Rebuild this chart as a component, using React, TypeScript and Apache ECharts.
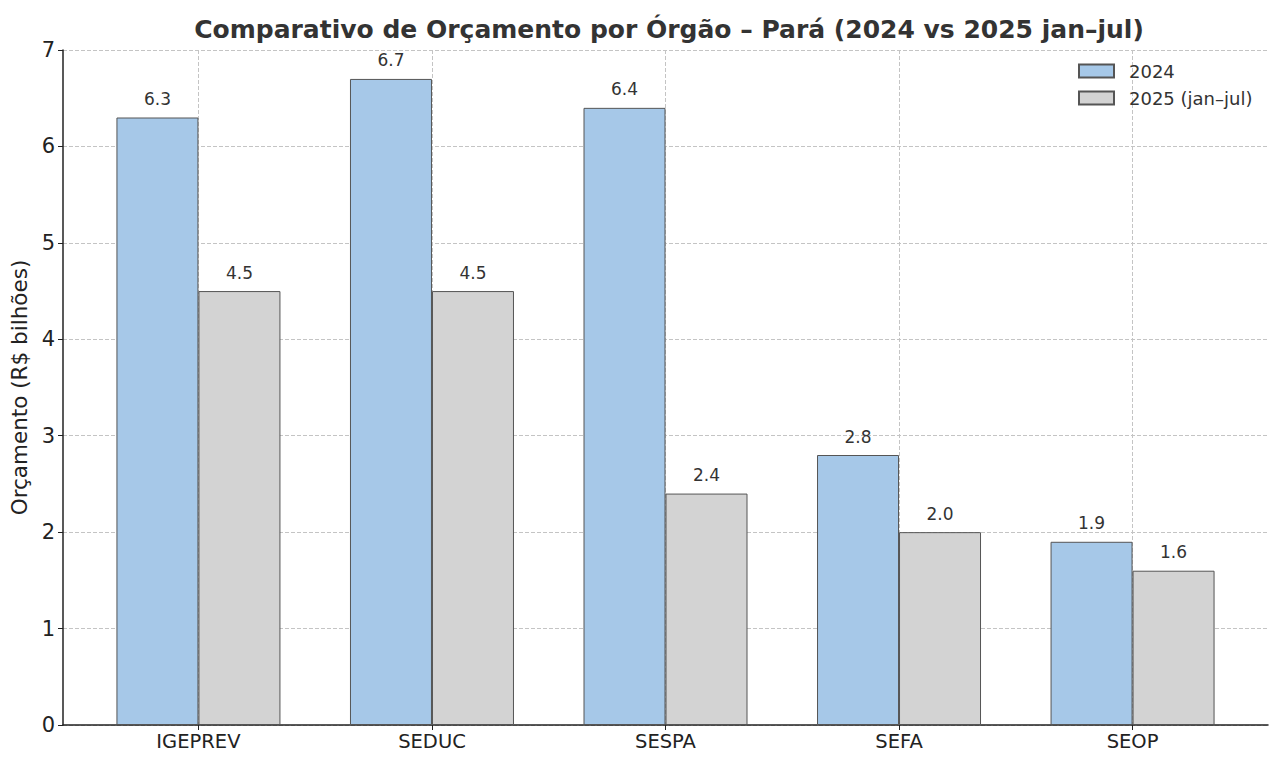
import { useEffect, useRef } from "react";
import * as echarts from "echarts";

const categories = ["IGEPREV", "SEDUC", "SESPA", "SEFA", "SEOP"];
const values2024 = [6.3, 6.7, 6.4, 2.8, 1.9];
const values2025 = [4.5, 4.5, 2.4, 2.0, 1.6];
const seriesNames = ["2024", "2025 (jan–jul)"];
const yTicks = [0, 1, 2, 3, 4, 5, 6, 7];

const FONT = "DejaVu Sans";
const BLUE = "#a6c8e8";
const GREY = "#d3d3d3";
const EDGE = "#555555";
const GRID_LINE = "#c4c4c4";

function buildOption() {
  const positions = categories.map((_, i) => i);
  const barSeries = (name: string, values: number[], color: string) => ({
    name,
    type: "bar",
    barWidth: 82,
    barGap: "0%",
    data: values.map((v, i) => [positions[i], v]),
    itemStyle: { color, borderColor: EDGE, borderWidth: 1 },
    label: {
      show: true,
      position: "top",
      distance: 10,
      fontFamily: FONT,
      fontSize: 17,
      color: "#333",
      formatter: (p: any) => Number(p.value[1]).toFixed(1),
    },
  });

  return {
    animation: false,
    textStyle: { fontFamily: FONT },
    title: {
      text: "Comparativo de Orçamento por Órgão – Pará (2024 vs 2025 jan–jul)",
      left: 664,
      textAlign: "center",
      top: 12,
      textStyle: { fontFamily: FONT, fontSize: 25, fontWeight: "bold", color: "#333" },
    },
    legend: {
      orient: "vertical",
      left: 1073,
      top: 57,
      itemWidth: 35,
      itemHeight: 13,
      itemGap: 9,
      icon: "rect",
      textStyle: { fontFamily: FONT, fontSize: 18, color: "#333", padding: [0, 0, 0, 10] },
      data: seriesNames,
    },
    grid: { left: 63, right: 12, top: 50, bottom: 38, outerBoundsMode: "none", containLabel: false },
    xAxis: {
      type: "value",
      min: -0.58,
      max: 4.58,
      axisLine: { show: true, onZero: false, lineStyle: { color: "#222", width: 1.5 } },
      axisTick: { show: true, customValues: positions, length: 5, lineStyle: { color: "#222" } },
      axisLabel: {
        customValues: positions,
        formatter: (v: number) => categories[Math.round(v)] ?? "",
        fontFamily: FONT,
        fontSize: 19.5,
        color: "#222",
        margin: 6,
      },
      splitLine: { show: true, lineStyle: { color: GRID_LINE, type: "dashed", width: 1 } },
    },
    yAxis: {
      type: "value",
      min: yTicks[0],
      max: yTicks[yTicks.length - 1],
      interval: 1,
      name: "Orçamento (R$ bilhões)",
      nameLocation: "middle",
      nameGap: 32,
      nameTextStyle: { fontFamily: FONT, fontSize: 21.5, color: "#222" },
      axisLine: { show: true, onZero: false, lineStyle: { color: "#222", width: 1.5 } },
      axisTick: { show: true, length: 5, lineStyle: { color: "#222" } },
      axisLabel: { fontFamily: FONT, fontSize: 21, color: "#222", margin: 8 },
      splitLine: { show: true, lineStyle: { color: GRID_LINE, type: "dashed", width: 1 } },
    },
    series: [
      barSeries(seriesNames[0], values2024, BLUE),
      barSeries(seriesNames[1], values2025, GREY),
    ],
  };
}

function Chart() {
  const ref = useRef<HTMLDivElement>(null);
  useEffect(() => {
    if (!ref.current) return;
    const inst = echarts.init(ref.current, undefined, { renderer: "svg" });
    inst.setOption(buildOption() as any);
    return () => inst.dispose();
  }, []);
  return <div ref={ref} style={{ width: 1280, height: 763 }} />;
}

export default function App() {
  return (
    <div style={{ position: "absolute", left: 0, top: 0, background: "#fff" }}>
      <Chart />
    </div>
  );
}
